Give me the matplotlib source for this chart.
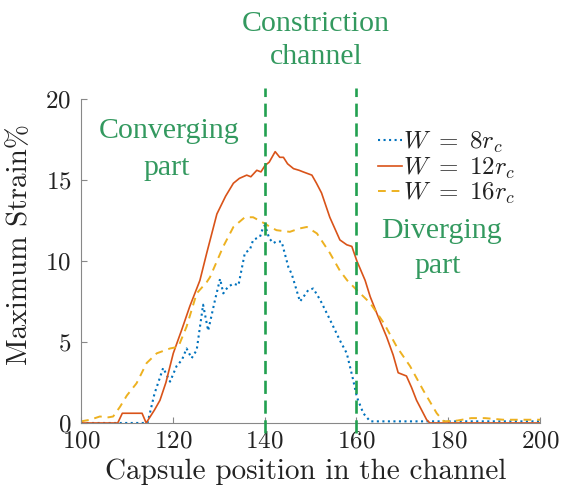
import matplotlib
matplotlib.use('Agg')
import matplotlib.pyplot as plt
import numpy as np

plt.rcParams['font.family'] = 'serif'
plt.rcParams['font.serif'] = ['cmr10']
plt.rcParams['mathtext.fontset'] = 'cm'
plt.rcParams['axes.formatter.use_mathtext'] = True

# W = 8 r_c (blue, dotted)
x_w8 = [100, 114.5, 116, 117.9, 119.4, 120.8, 122, 123, 124.1, 125.2, 126.6, 127.7, 129.2,
        130.3, 131, 132, 133.2, 134.3, 135.7, 136.8, 137.5, 139, 139.7, 140.1, 141, 141.9,
        142.5, 143.7, 145.2, 145.9, 147.7, 148.5, 149.5, 150.6, 152.1, 154.2, 156.4, 157.9,
        159.3, 160.1, 161.5, 163, 200]
y_w8 = [0, 0, 1.8, 3.4, 2.55, 3.5, 3.9, 4.6, 4.0, 4.5, 7.3, 5.7, 7.6,
        8.9, 8.0, 8.4, 8.6, 8.5, 10.5, 10.7, 11.3, 11.5, 12.1, 12.2, 11.4, 11.1,
        11.2, 11.2, 9.6, 9.2, 7.5, 7.8, 8.2, 8.3, 7.6, 6.4, 5.1, 4.3,
        2.65, 1.6, 0.6, 0.1, 0.1]

# W = 12 r_c (red, solid)
x_w12 = [100, 108, 109, 110, 113.3, 114.2, 116, 117.2, 118.5, 120.1, 122, 123.7, 125.9, 127.4,
         129.6, 131.5, 133.2, 134.5, 136.1, 137, 138.3, 139.2, 140.1, 141, 142.3, 143.3, 144.1,
         145, 146.3, 147.5, 148.4, 150.3, 151.3, 152.4, 154.2, 156.4, 157.9, 159, 160.1, 161.9,
         163, 164.4, 166.6, 168, 169.1, 170.9, 172, 173.1, 175.3, 176, 200]
y_w12 = [0, 0, 0.6, 0.6, 0.6, 0, 0.8, 1.4, 2.5, 4.3, 5.8, 7.2, 8.8, 10.5,
         12.9, 14.0, 14.8, 15.1, 15.3, 15.2, 15.6, 15.5, 15.9, 16.1, 16.75, 16.4, 16.4,
         16.0, 15.7, 15.6, 15.5, 15.3, 14.8, 14.2, 12.7, 11.3, 11.0, 10.9, 10.0, 8.8,
         7.8, 6.8, 5.3, 4.2, 3.1, 2.9, 2.2, 1.4, 0.2, 0, 0]

# W = 16 r_c (yellow, dashed)
x_w16 = [100, 102, 104.1, 106, 107, 108.5, 110, 112.1, 114.3, 116.5, 119.4, 121.2, 123, 125.2,
         127.4, 128.1, 131, 133.2, 135.7, 137.5, 140.1, 141.2, 142.6, 145.5, 147.5, 149.2, 151.4,
         154.2, 156.4, 158, 160.1, 163, 165.9, 168.8, 171.7, 174.6, 177.5, 179, 182, 185, 188,
         192, 200]
y_w16 = [0.1, 0.2, 0.4, 0.35, 0.4, 1.0, 1.7, 2.45, 3.7, 4.3, 4.6, 4.7, 5.95, 8.0,
         8.7, 9.0, 10.9, 12.1, 12.7, 12.7, 12.3, 12.1, 11.9, 11.8, 12.0, 12.1, 11.7,
         10.5, 9.4, 8.8, 8.2, 7.4, 6.2, 4.7, 3.5, 2.0, 0.6, 0.1, 0.15, 0.3, 0.3,
         0.2, 0.2]

channel_edges = [140, 160]
green = '#33995f'

fig = plt.figure(figsize=(5.61, 4.95), dpi=100)
ax = fig.add_axes([0.1444, 0.1455, 0.8182, 0.6545])

ax.plot(x_w8, y_w8, color='#0072BD', linestyle=':', lw=1.5, label=r'$W\ =\ 8r_c$')
ax.plot(x_w12, y_w12, color='#D95319', linestyle='-', lw=1.2, label=r'$W\ =\ 12r_c$')
ax.plot(x_w16, y_w16, color='#EDB120', linestyle=(0, (4, 3)), lw=1.4, label=r'$W\ =\ 16r_c$')

# channel boundaries, drawn past the axes
for xe in channel_edges:
    ax.plot([xe, xe], [-0.6, 20.7], color='#22a050', lw=1.9, linestyle=(0, (5, 2.5)),
            clip_on=False, zorder=5)

ax.set_xlim(100, 200)
ax.set_ylim(0, 20)
ax.set_xticks([100, 120, 140, 160, 180, 200])
ax.set_yticks([0, 5, 10, 15, 20])
for s in ['top', 'right']:
    ax.spines[s].set_visible(False)
for s in ['left', 'bottom']:
    ax.spines[s].set_color('#888888')
ax.tick_params(direction='in', length=4, color='#888888', labelsize=18, labelcolor='#222222')
ax.tick_params(axis='y', pad=7)
ax.tick_params(axis='x', pad=5.5)

ax.set_xlabel('Capsule position in the channel', fontsize=21, color='#222222')
ax.set_ylabel('Maximum Strain%', fontsize=21, color='#222222')
ax.xaxis.set_label_coords(0.49, -0.11)
ax.yaxis.set_label_coords(-0.105, 0.55)

tfont = dict(family='Liberation Serif', fontsize=21.5, color=green, ha='center', va='center')
fig.text(316/561, 1 - 24/495, 'Constriction', **tfont)
fig.text(316/561, 1 - 57/495, 'channel', **tfont)
fig.text(169/561, 1 - 131/495, 'Converging', **tfont)
fig.text(167/561, 1 - 168/495, 'part', **tfont)
fig.text(441/561, 1 - 231/495, 'Diverging', **tfont)
fig.text(438/561, 1 - 266/495, 'part', **tfont)

leg = ax.legend(loc='upper left', bbox_to_anchor=(378/561, 1 - 130/495),
                bbox_transform=fig.transFigure, frameon=False, fontsize=18,
                handlelength=0.95, handletextpad=0.05, labelspacing=0.0,
                borderpad=0, borderaxespad=0)
for t in leg.get_texts():
    t.set_color('#222222')

plt.savefig('out.png', dpi=100)
plt.close()
